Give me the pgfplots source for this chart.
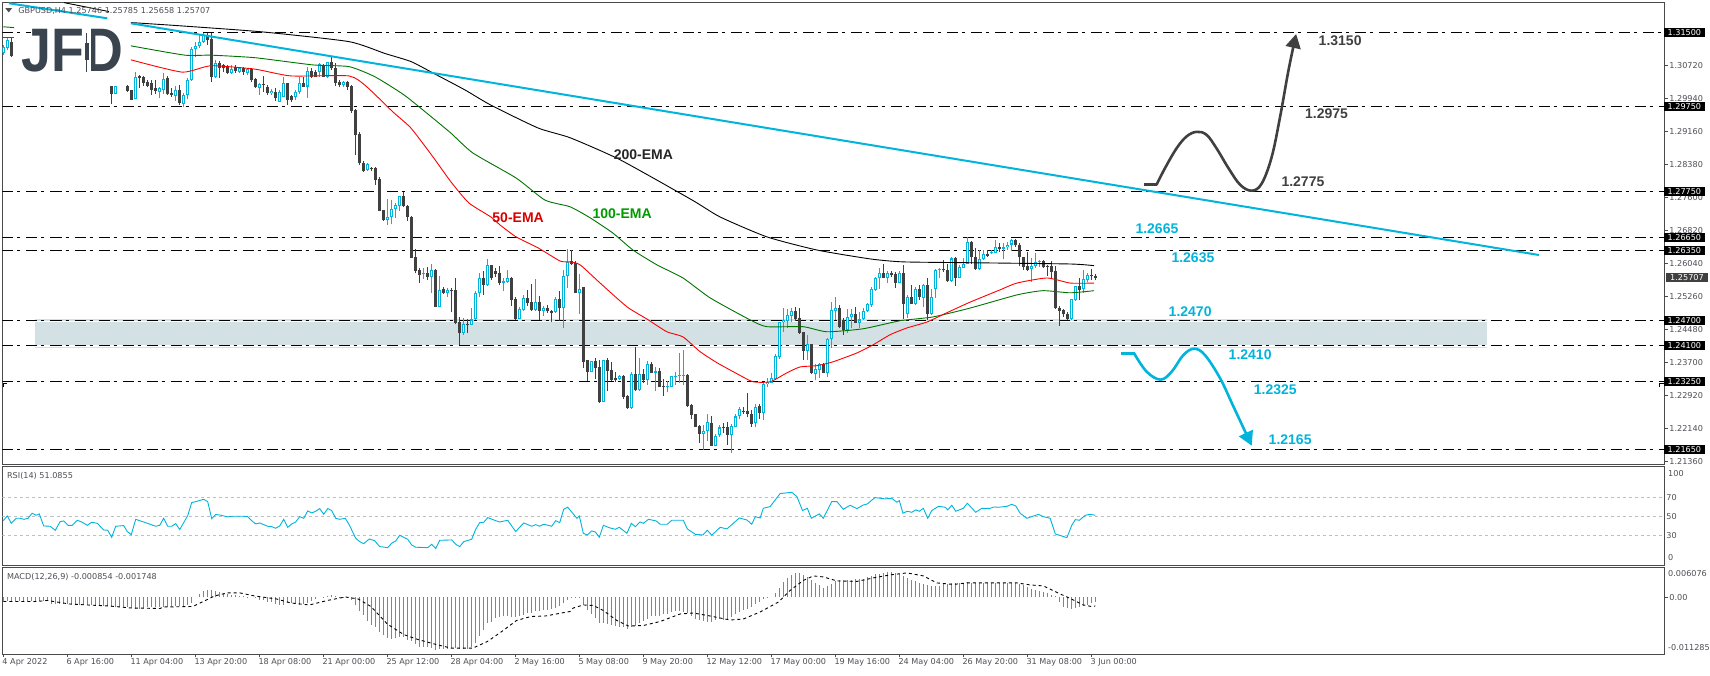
\documentclass[border=0pt]{standalone}
\usepackage{pgfplots}
\pgfplotsset{compat=1.18}
\usepackage{pgfplotstable}
\usepackage{fontspec}
\setmainfont{Liberation Sans}
\newfontfamily\tf{DejaVu Sans}
\newcommand{\sm}{\fontsize{8.1}{10}\tf}
\usetikzlibrary{arrows.meta}
\definecolor{cy}{HTML}{00B4DC}
\definecolor{dk}{HTML}{404040}
\definecolor{ax}{HTML}{4A4A4A}
\definecolor{tx}{HTML}{4D4D55}
\definecolor{band}{HTML}{D3E0E4}
\definecolor{histc}{HTML}{1CA9CC}
\definecolor{logo}{HTML}{3A444E}
\pgfplotstableread{
i o c h l
0 1.3100 1.3116 1.3120 1.3097
1 1.3114 1.3132 1.3136 1.3108
28 1.3004 1.3023 1.3023 1.3004
33 1.2992 1.3044 1.3057 1.2992
39 1.3010 1.3018 1.3022 1.2994
40 1.3014 1.3039 1.3053 1.3004
43 1.3000 1.3013 1.3023 1.2988
45 1.2981 1.3001 1.3006 1.2973
46 1.3002 1.3037 1.3041 1.2993
47 1.3037 1.3111 1.3116 1.3036
48 1.3110 1.3118 1.3128 1.3091
49 1.3118 1.3128 1.3144 1.3112
50 1.3128 1.3144 1.3148 1.3124
53 1.3044 1.3078 1.3085 1.3041
57 1.3053 1.3063 1.3073 1.3052
59 1.3057 1.3065 1.3069 1.3053
61 1.3053 1.3064 1.3066 1.3049
64 1.3018 1.3027 1.3030 1.3002
67 1.3006 1.3012 1.3015 1.3002
69 1.2986 1.3010 1.3014 1.2986
70 1.2998 1.3030 1.3044 1.2998
73 1.2998 1.3008 1.3014 1.2989
74 1.3010 1.3030 1.3044 1.3004
76 1.3022 1.3059 1.3069 1.2996
79 1.3057 1.3074 1.3077 1.3045
81 1.3044 1.3079 1.3081 1.3041
85 1.3026 1.3033 1.3034 1.3020
91 1.2825 1.2839 1.2841 1.2823
96 1.2707 1.2713 1.2756 1.2695
97 1.2713 1.2732 1.2754 1.2697
98 1.2732 1.2742 1.2746 1.2711
99 1.2740 1.2764 1.2764 1.2729
105 1.2579 1.2581 1.2593 1.2568
107 1.2573 1.2588 1.2602 1.2534
109 1.2502 1.2541 1.2575 1.2502
111 1.2535 1.2541 1.2546 1.2526
115 1.2439 1.2462 1.2475 1.2435
117 1.2459 1.2472 1.2498 1.2459
118 1.2473 1.2535 1.2539 1.2471
119 1.2535 1.2569 1.2581 1.2524
121 1.2553 1.2600 1.2615 1.2552
125 1.2559 1.2563 1.2569 1.2540
126 1.2561 1.2569 1.2589 1.2557
129 1.2473 1.2496 1.2502 1.2472
130 1.2494 1.2522 1.2530 1.2492
133 1.2494 1.2513 1.2567 1.2492
135 1.2491 1.2498 1.2505 1.2481
138 1.2489 1.2520 1.2524 1.2487
140 1.2500 1.2574 1.2588 1.2451
141 1.2574 1.2607 1.2638 1.2546
144 1.2535 1.2545 1.2579 1.2486
147 1.2349 1.2373 1.2373 1.2349
150 1.2277 1.2376 1.2376 1.2277
154 1.2332 1.2339 1.2341 1.2329
157 1.2263 1.2343 1.2349 1.2261
159 1.2306 1.2343 1.2381 1.2304
161 1.2329 1.2367 1.2375 1.2317
163 1.2346 1.2350 1.2359 1.2303
166 1.2313 1.2315 1.2327 1.2300
167 1.2313 1.2339 1.2339 1.2312
168 1.2338 1.2339 1.2349 1.2317
169 1.2339 1.2340 1.2392 1.2323
170 1.2339 1.2341 1.2400 1.2317
175 1.2202 1.2208 1.2223 1.2165
176 1.2208 1.2229 1.2249 1.2184
178 1.2174 1.2198 1.2202 1.2173
179 1.2200 1.2217 1.2223 1.2194
182 1.2200 1.2221 1.2225 1.2156
183 1.2219 1.2243 1.2250 1.2217
184 1.2243 1.2260 1.2265 1.2236
188 1.2227 1.2266 1.2272 1.2217
190 1.2252 1.2319 1.2321 1.2235
191 1.2319 1.2324 1.2333 1.2312
192 1.2323 1.2333 1.2345 1.2321
193 1.2332 1.2386 1.2391 1.2329
194 1.2383 1.2465 1.2467 1.2378
195 1.2465 1.2471 1.2498 1.2443
196 1.2469 1.2483 1.2496 1.2451
197 1.2481 1.2492 1.2498 1.2467
201 1.2398 1.2414 1.2435 1.2376
203 1.2343 1.2355 1.2368 1.2329
204 1.2353 1.2368 1.2370 1.2333
206 1.2346 1.2425 1.2428 1.2337
207 1.2425 1.2494 1.2514 1.2405
208 1.2492 1.2500 1.2524 1.2471
211 1.2446 1.2477 1.2496 1.2441
212 1.2477 1.2486 1.2496 1.2451
214 1.2464 1.2472 1.2490 1.2451
215 1.2472 1.2492 1.2498 1.2471
216 1.2492 1.2508 1.2512 1.2490
217 1.2506 1.2544 1.2548 1.2502
218 1.2542 1.2569 1.2573 1.2540
219 1.2569 1.2581 1.2593 1.2545
221 1.2571 1.2581 1.2587 1.2559
224 1.2559 1.2581 1.2587 1.2557
226 1.2486 1.2524 1.2530 1.2475
228 1.2509 1.2544 1.2548 1.2506
230 1.2522 1.2553 1.2556 1.2502
232 1.2486 1.2524 1.2545 1.2483
233 1.2543 1.2589 1.2590 1.2522
234 1.2588 1.2590 1.2593 1.2571
237 1.2563 1.2616 1.2620 1.2561
239 1.2571 1.2595 1.2601 1.2569
240 1.2594 1.2604 1.2616 1.2593
241 1.2604 1.2654 1.2666 1.2603
244 1.2590 1.2614 1.2636 1.2589
245 1.2614 1.2626 1.2636 1.2612
247 1.2629 1.2632 1.2636 1.2626
248 1.2630 1.2644 1.2660 1.2628
250 1.2638 1.2642 1.2652 1.2614
251 1.2642 1.2649 1.2656 1.2636
252 1.2649 1.2659 1.2661 1.2634
257 1.2591 1.2599 1.2616 1.2560
258 1.2599 1.2607 1.2630 1.2593
259 1.2607 1.2610 1.2612 1.2597
267 1.2472 1.2520 1.2520 1.2471
268 1.2518 1.2551 1.2551 1.2516
270 1.2543 1.2567 1.2589 1.2535
271 1.2565 1.2577 1.2581 1.2561
}\upT
\pgfplotstableread{
i o c h l
2 1.3128 1.3094 1.3138 1.3092
27 1.3023 1.3004 1.3023 1.2981
31 1.3023 1.3012 1.3026 1.3010
32 1.3014 1.2990 1.3014 1.2989
34 1.3047 1.3041 1.3049 1.3018
35 1.3044 1.3030 1.3047 1.3023
36 1.3033 1.3023 1.3037 1.3020
37 1.3030 1.3014 1.3037 1.3002
38 1.3019 1.3012 1.3037 1.3004
41 1.3041 1.3004 1.3047 1.3002
42 1.3006 1.3001 1.3018 1.2998
44 1.3014 1.2982 1.3026 1.2979
51 1.3144 1.3132 1.3149 1.3120
52 1.3133 1.3045 1.3148 1.3033
54 1.3078 1.3065 1.3083 1.3041
55 1.3073 1.3065 1.3075 1.3057
56 1.3070 1.3055 1.3073 1.3052
58 1.3069 1.3059 1.3073 1.3055
60 1.3065 1.3057 1.3069 1.3049
62 1.3064 1.3037 1.3066 1.3033
63 1.3039 1.3020 1.3041 1.3018
65 1.3028 1.3026 1.3047 1.3010
66 1.3020 1.3006 1.3026 1.3002
68 1.3008 1.2994 1.3018 1.2988
71 1.3030 1.2989 1.3030 1.2978
72 1.3000 1.2989 1.3002 1.2986
75 1.3030 1.3022 1.3045 1.3020
77 1.3059 1.3044 1.3065 1.3041
78 1.3056 1.3045 1.3061 1.3044
80 1.3073 1.3045 1.3074 1.3044
82 1.3079 1.3065 1.3092 1.3061
83 1.3066 1.3031 1.3077 1.3023
84 1.3033 1.3026 1.3037 1.3020
86 1.3033 1.3020 1.3035 1.3014
87 1.3023 1.2965 1.3026 1.2960
88 1.2967 1.2908 1.2968 1.2860
89 1.2909 1.2842 1.2915 1.2837
90 1.2842 1.2823 1.2845 1.2821
92 1.2829 1.2828 1.2833 1.2823
93 1.2829 1.2801 1.2833 1.2790
94 1.2804 1.2729 1.2809 1.2729
95 1.2730 1.2707 1.2730 1.2705
100 1.2764 1.2740 1.2774 1.2738
101 1.2740 1.2713 1.2742 1.2705
102 1.2715 1.2618 1.2716 1.2618
103 1.2619 1.2587 1.2638 1.2581
104 1.2589 1.2577 1.2593 1.2559
106 1.2581 1.2572 1.2597 1.2565
108 1.2588 1.2502 1.2590 1.2502
110 1.2544 1.2535 1.2549 1.2532
112 1.2542 1.2540 1.2546 1.2489
113 1.2542 1.2463 1.2571 1.2461
114 1.2465 1.2439 1.2477 1.2411
116 1.2461 1.2459 1.2473 1.2439
120 1.2569 1.2553 1.2586 1.2530
122 1.2600 1.2569 1.2600 1.2565
123 1.2586 1.2580 1.2593 1.2573
124 1.2581 1.2559 1.2598 1.2553
127 1.2571 1.2518 1.2573 1.2504
128 1.2520 1.2473 1.2525 1.2471
131 1.2522 1.2510 1.2542 1.2505
132 1.2513 1.2494 1.2555 1.2492
134 1.2513 1.2491 1.2528 1.2470
136 1.2498 1.2491 1.2506 1.2487
137 1.2492 1.2488 1.2494 1.2467
139 1.2520 1.2500 1.2539 1.2468
142 1.2609 1.2603 1.2636 1.2601
143 1.2605 1.2535 1.2609 1.2535
145 1.2548 1.2372 1.2549 1.2358
146 1.2376 1.2349 1.2376 1.2327
148 1.2374 1.2358 1.2380 1.2331
149 1.2360 1.2277 1.2376 1.2276
151 1.2376 1.2351 1.2380 1.2302
152 1.2353 1.2329 1.2372 1.2327
153 1.2333 1.2328 1.2349 1.2324
155 1.2339 1.2290 1.2341 1.2285
156 1.2291 1.2263 1.2294 1.2261
158 1.2343 1.2306 1.2408 1.2302
160 1.2343 1.2328 1.2354 1.2321
162 1.2367 1.2346 1.2372 1.2345
164 1.2350 1.2313 1.2357 1.2312
165 1.2315 1.2313 1.2331 1.2291
171 1.2342 1.2268 1.2343 1.2265
172 1.2270 1.2247 1.2272 1.2236
173 1.2248 1.2219 1.2249 1.2217
174 1.2221 1.2202 1.2223 1.2181
177 1.2227 1.2174 1.2244 1.2174
180 1.2217 1.2216 1.2227 1.2203
181 1.2217 1.2200 1.2231 1.2176
185 1.2255 1.2254 1.2265 1.2250
186 1.2255 1.2249 1.2298 1.2241
187 1.2250 1.2225 1.2258 1.2219
189 1.2268 1.2252 1.2272 1.2236
198 1.2492 1.2472 1.2501 1.2469
199 1.2475 1.2441 1.2498 1.2438
200 1.2443 1.2398 1.2443 1.2376
202 1.2414 1.2346 1.2414 1.2343
205 1.2368 1.2346 1.2370 1.2345
209 1.2498 1.2455 1.2506 1.2451
210 1.2471 1.2446 1.2475 1.2435
213 1.2486 1.2464 1.2502 1.2463
220 1.2581 1.2571 1.2603 1.2569
222 1.2581 1.2578 1.2587 1.2573
223 1.2579 1.2559 1.2585 1.2547
225 1.2581 1.2509 1.2601 1.2472
227 1.2524 1.2509 1.2553 1.2508
229 1.2544 1.2524 1.2553 1.2518
231 1.2553 1.2486 1.2569 1.2471
235 1.2590 1.2588 1.2612 1.2585
236 1.2589 1.2563 1.2604 1.2561
238 1.2618 1.2571 1.2620 1.2551
242 1.2656 1.2619 1.2658 1.2604
243 1.2620 1.2590 1.2640 1.2589
246 1.2626 1.2623 1.2636 1.2620
249 1.2644 1.2638 1.2652 1.2632
253 1.2659 1.2649 1.2661 1.2644
254 1.2649 1.2619 1.2652 1.2598
255 1.2620 1.2597 1.2620 1.2589
256 1.2599 1.2589 1.2632 1.2587
260 1.2610 1.2595 1.2612 1.2593
261 1.2599 1.2597 1.2601 1.2575
262 1.2598 1.2585 1.2611 1.2569
263 1.2586 1.2498 1.2599 1.2496
264 1.2500 1.2493 1.2504 1.2457
265 1.2494 1.2484 1.2496 1.2479
266 1.2485 1.2473 1.2490 1.2471
269 1.2551 1.2542 1.2571 1.2518
272 1.2577 1.2575 1.2590 1.2565
273 1.25746 1.25707 1.25785 1.25658
}\dnT
\pgfplotstableread{
i v
0 45.4
1 50.4
2 42.6
3.2 47.9
4.2 47.9
5.2 46.8
6.2 47.9
7.2 53.2
8.2 51.1
9 52.5
10.1 39.8
11.7 39.5
13 35.3
14.2 44.4
15.1 45.1
16.2 40.5
17.2 40.5
18.5 45.8
19.6 44.0
21 40.5
22.1 43.7
23.5 42.6
25.1 35.6
26.1 35.3
27.1 27.9
28.1 39.5
30.1 40.2
31 33.9
32 30.7
33.1 46.8
35.1 44.0
38.1 39.5
39.1 40.5
40.1 47.9
41.1 39.5
42.1 39.5
43.1 42.3
44.1 36.0
45.1 43.3
46.1 50.7
47.1 64.4
48.1 65.4
50.1 67.9
51.1 65.4
52.1 47.5
53.1 51.8
54.1 51.4
56.1 49.3
57.1 50
60.1 50
61.1 49.6
62.1 45.4
63.1 41.9
64.1 43.0
66.1 39.5
67.1 39.1
68.1 37.4
69.1 39.8
70.1 46.8
71.1 38.4
72.1 41.9
73.1 44.0
74.1 49.6
75.1 47.9
76.1 55.6
77.1 53.5
78.1 55.3
79.1 58.1
80.1 52.1
81.1 58.1
82.1 56.0
83.1 47.9
84.1 46.8
85.5 47.9
86.5 40.9
88.1 26.8
89.1 23.3
90.1 21.2
91.5 26.1
92.8 24.4
94.1 18.1
96.1 17.0
97.1 21.6
98.1 24.0
99.1 30.0
100.1 27.9
101.1 25.8
102.1 19.8
103.1 17.4
106.1 17.0
107.1 20.5
108.1 16.0
109.1 24.7
112.1 25.1
113.1 20.5
114.1 18.1
115.1 23.3
117.1 25.8
118.1 36.3
119.1 43.3
120.1 43.7
121.1 48.6
123.1 45.4
124.1 44.0
126.1 45.8
128.1 33.9
130.1 43.0
132.1 39.5
133.1 41.2
134.1 39.5
135.1 41.6
137.1 39.5
138.1 45.4
139.1 43.3
140.1 57.4
141.1 59.5
143.4 47.9
144 50.4
145 32.1
146 30.3
147.1 34.6
148 33.5
149 27.9
150 40.5
151.7 37.7
153 36.3
154 38.4
155.9 32.1
157 42.6
158 39.1
159.2 44.0
160 42.6
161.3 46.8
163.2 45.1
164.2 41.6
166 41.6
167.1 45.8
170 45.8
171 36.7
173 31.0
174.9 30.3
176 35.3
177.1 30.0
179.2 38.4
180.9 36.7
184 48.2
185.9 46.1
187.1 41.6
188 49.6
189.2 48.2
190 58.4
191.7 60.2
194.2 73.9
197.1 75.3
198.4 70.7
199.8 56.0
201 58.4
202 47.9
204 52.5
205 47.9
207.1 65.4
208.4 65.4
210 57.4
211.7 61.6
213.4 58.1
215 61.9
216 63.0
217.9 69.7
220.5 68.3
222.1 69.0
223.4 64.8
224 66.5
224.9 53.2
226 55.3
227.1 54.2
228.1 56.7
229 55.3
230 58.4
231.1 47.9
232.1 56.0
233.8 60.5
235.5 59.5
236.1 56.7
237.1 61.6
238.1 55.3
240 58.4
241 63.7
243.1 54.2
244.6 58.4
246.7 58.4
247.7 59.8
248.8 59.5
250.9 60.5
252.1 62.6
253.1 60.9
254.2 53.2
255.9 47.9
258.8 52.1
260 49.6
261.7 47.9
263 31.4
265.9 27.5
267.1 40.5
268 46.5
269 45.8
270.5 51.1
271.7 52.1
273 51.0855
}\rsiT
\pgfplotstableread{
m
-.0008
-.0008
-.0008
-.0008
-.0008
-.0007
-.0007
-.0007
-.0007
-.0007
-.0008
-.0007
-.0013
-.0013
-.0013
-.0013
-.0013
-.0013
-.0015
-.0015
-.0016
-.0016
-.0016
-.0016
-.0017
-.0017
-.0018
-.0019
-.0019
-.0019
-.0020
-.0020
-.0021
-.0023
-.0023
-.0021
-.0020
-.0019
-.0019
-.0019
-.0019
-.0019
-.0018
-.0018
-.0018
-.0017
-.0015
-.0011
0
.0007
.0012
.0015
.0015
.0012
.0010
.0009
.0007
.0005
.0004
.0003
.0002
.0001
0
-.0001
-.0005
-.0006
-.0009
-.0010
-.0013
-.0015
-.0015
-.0011
-.0011
-.0013
-.0015
-.0013
-.0011
-.0008
-.0003
0
.0001
.0002
.0004
.0002
.0001
.0001
-.0002
-.0006
-.0015
-.0028
-.0035
-.0046
-.0055
-.0058
-.0068
-.0075
-.0081
-.0082
-.0081
-.0079
-.0078
-.0084
-.0086
-.0093
-.0098
-.0099
-.0099
-.0101
-.0104
-.0103
-.0102
-.0102
-.0101
-.0101
-.0102
-.0102
-.0102
-.0099
-.0090
-.0076
-.0065
-.0051
-.0048
-.0041
-.0038
-.0036
-.0036
-.0038
-.0038
-.0036
-.0035
-.0031
-.0031
-.0028
-.0027
-.0025
-.0025
-.0023
-.0021
-.0018
-.0011
-.0005
.0001
.0001
-.0002
-.0016
-.0026
-.0034
-.0041
-.0051
-.0051
-.0053
-.0055
-.0057
-.0058
-.0059
-.0063
-.0058
-.0056
-.0051
-.0046
-.0043
-.0037
-.0036
-.0036
-.0034
-.0033
-.0029
-.0028
-.0027
-.0029
-.0031
-.0036
-.0043
-.0044
-.0046
-.0048
-.0048
-.0044
-.0043
-.0044
-.0044
-.0039
-.0033
-.0029
-.0026
-.0024
-.0019
-.0013
-.0009
-.0003
-.0001
0
.0009
.0019
.0031
.0039
.0045
.0049
.0049
.0045
.0041
.0035
.0029
.0025
.0019
.0022
.0027
.0032
.0034
.0035
.0035
.0035
.0036
.0036
.0037
.0041
.0043
.0046
.0047
.0049
.0051
.0051
.0049
.0047
.0043
.0039
.0035
.0032
.0029
.0027
.0024
.0022
.0022
.0023
.0026
.0027
.0029
.0029
.0029
.0029
.0030
.0029
.0029
.0029
.0029
.0029
.0029
.0029
.0029
.0029
.0029
.0029
.0028
.0027
.0024
.0021
.0017
.0014
.0012
.0011
.0009
.0005
.0003
-.0009
-.0019
-.0021
-.0023
-.0021
-.0020
-.0018
-.0015
-.0011
-.0009
}\histT
\pgfplotstableread{
i s
0 -.0008
8.3 -.0008
11 -.0006
16.5 -.0013
21 -.0015
26.5 -.0017
31.9 -.0021
39.2 -.0022
40 -.0019
47.4 -.0018
50 -.0008
52.8 .0003
56 .0009
59.2 .0009
62.8 .0003
68.3 -.0003
71.9 -.0011
76.5 -.0015
81 -.0006
85.5 .0001
88.7 -.0003
91.9 -.0018
96 -.0053
100.1 -.0074
103.7 -.0084
108.3 -.0094
111.9 -.0101
117.4 -.0101
121 -.0088
124.6 -.0068
128.3 -.0046
131.9 -.0038
135.5 -.0037
141.7 -.0028
142.5 -.0021
145 -.0015
147.5 -.0016
150 -.0026
153.4 -.0046
156.3 -.0057
160 -.0056
164.2 -.0048
169.2 -.0033
172.5 -.0031
176.7 -.0037
181.7 -.0045
185 -.0043
189.2 -.0029
193.8 -.0009
196.7 .0014
200 .0034
202.5 .0043
205 .0041
208.4 .0033
213.4 .0032
217.5 .0039
221.7 .0045
225.9 .0049
230 .0043
233.4 .0029
237.5 .0026
240.9 .0029
253.4 .0029
256.7 .0025
260 .0023
264.2 .0007
265.9 .0001
268 -.0007
270 -.0015
272 -.0018
273 -.0017
}\sigT
\pgfplotsset{
 panel/.style={scale only axis, width=1662.2pt, xmin=-0.2, xmax=415.35, clip=true,
  axis line style={draw=ax,line width=0.9pt}, axis on top=false,
  scaled y ticks=false, scaled x ticks=false,
  ytick pos=right, yticklabel pos=right, xtick=\empty,
  tick style={draw=ax,line width=0.7pt}, major tick length=3pt, tick align=outside,
  yticklabel style={font=\sm, text=tx, anchor=west, inner sep=0pt, xshift=1.5pt}},
 hl/.style={black,line width=1.1pt,dash pattern=on 11pt off 4pt on 3pt off 6pt,forget plot},
 rl/.style={dashed,color=gray!50,line width=0.8pt,forget plot},
 ema/.style={line width=0.9pt,smooth,tension=0.35,forget plot}
}
\newcommand{\lab}[4]{\node[font=\fontsize{14}{16}\selectfont\bfseries,text=#1,inner sep=0pt] at (axis cs:#2,#3) {#4};}
\begin{document}
\begin{tikzpicture}[x=1pt,y=1pt]
\path[use as bounding box] (0,0) rectangle (1710pt,-675pt);
%---------- price panel
\begin{axis}[panel, at={(2.5pt,-2.3pt)}, anchor=north west, height=461.7pt,
 ymin=1.21308, ymax=1.32208,
 ytick={1.3072,1.2994,1.2916,1.2838,1.276,1.2682,1.2604,1.2526,1.2448,1.237,1.2292,1.2214,1.2136},
 yticklabels={1.30720,1.29940,1.29160,1.28380,1.27600,1.26820,1.26040,1.25260,1.24480,1.23700,1.22920,1.22140,1.21360},
 extra y ticks={1.315,1.2975,1.2775,1.2665,1.2635,1.247,1.241,1.2325,1.2165},
 extra y tick labels={1.31500,1.29750,1.27750,1.26650,1.26350,1.24700,1.24100,1.23250,1.21650},
 extra y tick style={major tick length=0pt, yticklabel style={fill=black,text=white,inner xsep=4pt,inner ysep=1.5pt,xshift=-2.8pt,font=\sm}},
]
\addplot[fill=band,draw=none,forget plot] coordinates {(7.9,1.24735)(370.9,1.24735)(370.9,1.24057)(7.9,1.24057)} -- cycle;
\addplot[white,line width=1.5pt,forget plot] coordinates {(7.9,1.2467)(370.9,1.2467)};
\addplot[white,line width=1.8pt,forget plot] coordinates {(7.9,1.241)(370.9,1.241)};
\addplot[hl] coordinates {(-0.2,1.315)(7,1.315)};
\addplot[hl] coordinates {(31.9,1.315)(415.35,1.315)};
\addplot[hl] coordinates {(-0.2,1.2975)(415.35,1.2975)};
\addplot[hl] coordinates {(-0.2,1.2775)(415.35,1.2775)};
\addplot[hl] coordinates {(-0.2,1.2665)(415.35,1.2665)};
\addplot[hl] coordinates {(-0.2,1.2635)(415.35,1.2635)};
\addplot[hl] coordinates {(-0.2,1.247)(415.35,1.247)};
\addplot[hl] coordinates {(-0.2,1.241)(415.35,1.241)};
\addplot[hl] coordinates {(-0.2,1.2325)(415.35,1.2325)};
\addplot[hl] coordinates {(-0.2,1.2165)(415.35,1.2165)};
\addplot[black,line width=1pt,forget plot] coordinates {(0,1.2312)(0,1.2322)(1,1.2322)};
\addplot[black,line width=1pt,forget plot] coordinates {(414,1.2312)(414,1.2322)(415.2,1.2322)};
%---------- candles: wicks, then bodies
\addplot[draw=none,forget plot,error bars/.cd,y dir=plus,y explicit,error mark=none,error bar style={draw=cy,line width=0.9pt}]
  table[x=i,y=l,y error plus expr={\thisrow{h}-\thisrow{l}}] {\upT};
\addplot[draw=none,forget plot,error bars/.cd,y dir=plus,y explicit,error mark=none,error bar style={draw=dk,line width=0.9pt}]
  table[x=i,y=l,y error plus expr={\thisrow{h}-\thisrow{l}}] {\dnT};
\addplot[draw=none,forget plot,error bars/.cd,y dir=plus,y explicit,error mark=none,error bar style={draw=cy,line width=3pt}]
  table[x=i,y=o,y error plus expr={\thisrow{c}-\thisrow{o}}] {\upT};
\addplot[draw=none,forget plot,error bars/.cd,y dir=plus,y explicit,error mark=none,error bar style={draw=white,line width=1.1pt}]
  table[x=i,y expr={\thisrow{o}+0.00024},y error plus expr={max(\thisrow{c}-\thisrow{o}-0.00048,0)}] {\upT};
\addplot[draw=none,forget plot,error bars/.cd,y dir=plus,y explicit,error mark=none,error bar style={draw=dk,line width=3pt}]
  table[x=i,y=c,y error plus expr={\thisrow{o}-\thisrow{c}}] {\dnT};
%---------- moving averages
\addplot[black,ema] coordinates {(15.2,1.3220)(26.4,1.3199)};
\addplot[black,ema] coordinates {(31.9,1.3173)(44.7,1.3165)(64.7,1.3151)(86.4,1.3128)(95.4,1.3100)(101.9,1.3081)(107.4,1.3054)(115.4,1.3014)(121.9,1.2978)(133.7,1.2924)(141.7,1.2901)(154.2,1.2849)(172.2,1.2754)(179.2,1.2714)(190.9,1.2667)(203.4,1.2636)(216.7,1.2615)(224.9,1.2608)(241.7,1.2606)(266.7,1.2603)(272.7,1.2599)};
\addplot[green!45!black,ema] coordinates {(0,1.3163)(2.7,1.3161)};
\addplot[green!45!black,ema] coordinates {(31.9,1.3118)(45.4,1.3096)(51.9,1.3096)(62.9,1.3090)(77.4,1.3073)(86.4,1.3069)(92.9,1.3045)(100.2,1.3002)(106.4,1.2955)(111.9,1.2912)(117.4,1.2865)(128.2,1.2806)(135.4,1.2754)(141.7,1.2738)(146.7,1.2712)(152.4,1.2676)(157.4,1.2636)(163.4,1.2601)(169.9,1.2570)(176.7,1.2523)(186.7,1.2471)(190.9,1.2455)(199.9,1.2455)(205.9,1.2443)(214.9,1.2450)(224.2,1.2469)(232.4,1.2478)(241.7,1.2499)(253.4,1.2530)(259.9,1.2540)(266.7,1.2535)(272.7,1.2540)};
\addplot[red,ema] coordinates {(0,1.3139)(2.7,1.3139)};
\addplot[red,ema] coordinates {(31.9,1.3085)(44.7,1.3056)(51.9,1.3071)(62.9,1.3063)(71.9,1.3047)(86.4,1.3047)(90.9,1.3021)(97.4,1.2962)(101.9,1.2924)(107.4,1.2856)(111.9,1.2797)(116.4,1.2747)(121.9,1.2714)(124.2,1.2695)(128.2,1.2667)(133.7,1.2641)(139.2,1.2610)(141.7,1.2608)(144.2,1.2601)(149.2,1.2558)(155.9,1.2502)(160.9,1.2473)(165.9,1.2443)(169.9,1.2431)(174.2,1.2396)(178.4,1.2370)(183.4,1.2344)(187.4,1.2325)(191.7,1.2325)(195.9,1.2346)(199.2,1.2360)(203.4,1.2363)(207.4,1.2372)(213.4,1.2393)(217.4,1.2412)(221.7,1.2436)(225.9,1.2452)(230.9,1.2466)(235.9,1.2488)(241.7,1.2513)(249.2,1.2542)(253.4,1.2558)(260.9,1.2570)(266.7,1.2558)(272.7,1.2558)};
%---------- trend line
\addplot[cy,line width=2pt,forget plot] coordinates {(1.4,1.32185)(26,1.3183)};
\addplot[cy,line width=2pt,forget plot] coordinates {(31.9,1.31712)(383.9,1.26242)};
%---------- scenario arrows
\addplot[dk,line width=2.6pt,smooth,tension=0.6,forget plot,-{Triangle[width=15pt,length=14pt]}] coordinates {(288.3,1.2790)(290.4,1.2829)(293.3,1.2876)(295.8,1.2904)(298.3,1.2915)(300.8,1.2908)(303.3,1.2876)(306.3,1.2829)(309.2,1.2790)(312.1,1.2776)(314.6,1.2793)(317.1,1.2856)(319.2,1.2951)(321.3,1.3061)(323.2,1.3146)};
\addplot[dk,line width=2.6pt,forget plot] coordinates {(285.2,1.2790)(288.4,1.2790)};
\addplot[cy,line width=2.6pt,smooth,tension=0.6,forget plot,-{Triangle[width=15pt,length=14pt]}] coordinates {(282.7,1.2392)(285.8,1.2349)(289.3,1.2330)(292.1,1.2349)(295,1.2388)(297.7,1.2403)(300.4,1.2388)(304.2,1.2333)(307.5,1.2267)(312.1,1.2174)};
\addplot[cy,line width=2.6pt,forget plot] coordinates {(279.5,1.2392)(282.8,1.2392)};
%---------- labels
\lab{black!85}{160}{1.2860}{200-EMA}
\lab{green!60!black}{154.7}{1.2721}{100-EMA}
\lab{red!85!black}{128.7}{1.2712}{50-EMA}
\lab{dk}{334.2}{1.3130}{1.3150}
\lab{dk}{330.8}{1.2957}{1.2975}
\lab{dk}{324.9}{1.2797}{1.2775}
\lab{cy}{288.4}{1.2686}{1.2665}
\lab{cy}{297.4}{1.2617}{1.2635}
\lab{cy}{296.7}{1.2490}{1.2470}
\lab{cy}{311.7}{1.2388}{1.2410}
\lab{cy}{318}{1.2306}{1.2325}
\lab{cy}{321.7}{1.2188}{1.2165}
\node[font=\fontsize{64}{66}\selectfont\bfseries,text=logo,inner sep=0pt] at (axis cs:17.2,1.3106) {\scalebox{0.84}[0.96]{JFD}};
\fill[white] (axis cs:19.9,1.3160) rectangle (axis cs:22,1.3052);
\draw[logo,line width=1pt] (axis cs:20.9,1.3148) -- (axis cs:20.9,1.3056);
\draw[logo,line width=4pt] (axis cs:20.9,1.3125) -- (axis cs:20.9,1.3085);
\node[font=\sm,text=tx,anchor=west,inner sep=0pt] at (axis cs:3.7,1.32015) {GBPUSD,H4 1.25746 1.25785 1.25658 1.25707};
\fill[tx] (axis cs:0.5,1.3207) -- (axis cs:2.2,1.3207) -- (axis cs:1.35,1.3197) -- cycle;
\end{axis}
\node[fill=dk,text=white,font=\sm,inner xsep=4pt,inner ysep=1.5pt,anchor=west] at (1666pt,-277.5pt) {1.25707};
%---------- RSI panel
\begin{axis}[panel, at={(2.5pt,-466.7pt)}, anchor=north west, height=98.3pt,
 ymin=-1.3, ymax=102.2, ytick={30,50,70}, yticklabels={30,50,70}, major tick length=0pt]
\addplot[rl] coordinates {(-0.2,70)(415.35,70)};
\addplot[rl] coordinates {(-0.2,50)(415.35,50)};
\addplot[rl] coordinates {(-0.2,30)(415.35,30)};
\addplot[cy,line width=0.9pt] table[x=i,y=v] {\rsiT};
\node[font=\sm,text=tx,anchor=west,inner sep=0pt] at (axis cs:0.9,92.7) {RSI(14) 51.0855};
\end{axis}
\node[font=\sm,text=tx,anchor=west,inner sep=0pt] at (1668pt,-473.3pt) {100};
\node[font=\sm,text=tx,anchor=west,inner sep=0pt] at (1668pt,-558pt) {0};
%---------- MACD panel
\begin{axis}[panel, at={(2.5pt,-567pt)}, anchor=north west, height=87pt,
 ymin=-0.011285, ymax=0.006076, ytick={0}, yticklabels={0.00},
 xtick={0,16,...,272},
 xticklabels={4 Apr 2022,6 Apr 16:00,11 Apr 04:00,13 Apr 20:00,18 Apr 08:00,21 Apr 00:00,25 Apr 12:00,28 Apr 04:00,2 May 16:00,5 May 08:00,9 May 20:00,12 May 12:00,17 May 00:00,19 May 16:00,24 May 04:00,26 May 20:00,31 May 08:00,3 Jun 00:00},
 xtick pos=bottom,
 xticklabel style={font=\sm,text=tx,anchor=north west,inner sep=0pt,xshift=-1pt,yshift=-1.5pt}]
\addplot[ycomb,histc,line width=1pt,mark=none] table[x expr=\coordindex,y=m] {\histT};
\addplot[black,line width=0.9pt,dash pattern=on 3pt off 3pt] table[x=i,y=s] {\sigT};
\node[font=\sm,text=tx,anchor=west,inner sep=0pt] at (axis cs:0.9,0.00415) {MACD(12,26,9) -0.000854 -0.001748};
\end{axis}
\node[font=\sm,text=tx,anchor=west,inner sep=0pt] at (1668pt,-574pt) {0.006076};
\node[font=\sm,text=tx,anchor=west,inner sep=0pt] at (1668pt,-647.3pt) {-0.011285};
\end{tikzpicture}
\end{document}
